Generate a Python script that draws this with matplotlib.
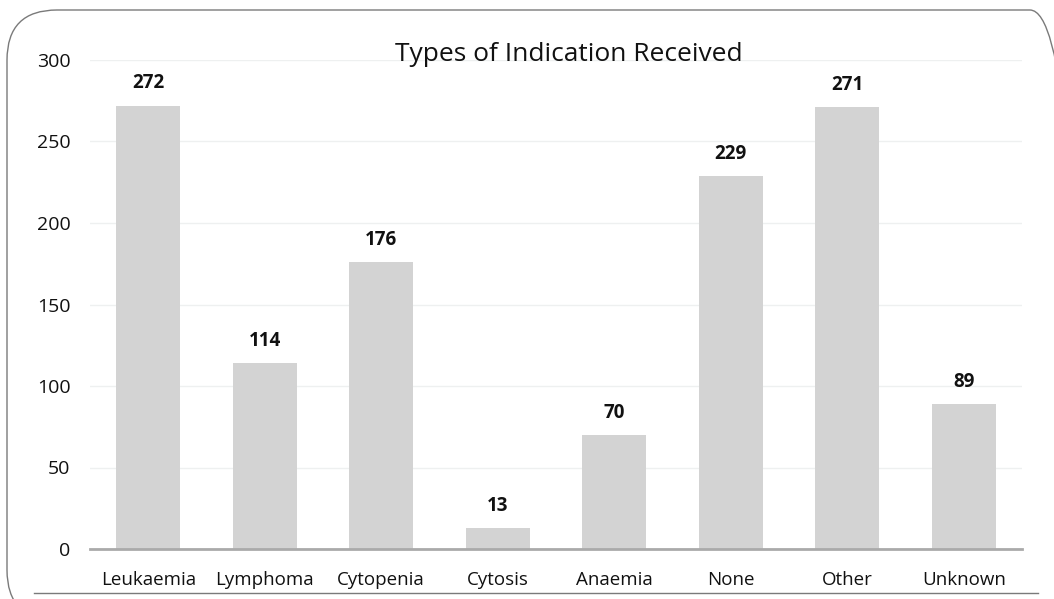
import matplotlib
matplotlib.use("Agg")
import matplotlib.pyplot as plt
from matplotlib.patches import FancyBboxPatch
from matplotlib.lines import Line2D

categories = ["Leukaemia", "Lymphoma", "Cytopenia", "Cytosis", "Anaemia", "None", "Other", "Unknown"]
values = [272, 114, 176, 13, 70, 229, 271, 89]
yticks = [0, 50, 100, 150, 200, 250, 300]
title = "Types of Indication Received"

plt.rcParams['font.family'] = ['Open Sans', 'DejaVu Sans']

W, H = 1054, 599
fig = plt.figure(figsize=(W/100, H/100), dpi=100)
fig.patch.set_facecolor("white")

# frame
frame = FancyBboxPatch((0.07, (H-620)/100), (1080-7)/100, (620-10)/100,
                       boxstyle="round,pad=0,rounding_size=0.5",
                       transform=fig.dpi_scale_trans, fill=False,
                       edgecolor="#7a7a7a", linewidth=1.0, clip_on=False)
fig.patches.append(frame)
fig.lines.append(Line2D([34/W, 1038/W], [1-593/H, 1-593/H], transform=fig.transFigure,
                        color="#7a7a7a", linewidth=1.0))

ax = fig.add_axes([90/W, 1-549/H, (1022-90)/W, (549-60)/H])
x = list(range(len(categories)))
ax.bar(x, values, width=0.55, color="#d3d3d3", zorder=2)
ax.set_xlim(-0.5, len(categories)-0.5)
ax.set_ylim(0, 300)
ax.set_yticks(yticks)
ax.set_xticks(x)
ax.set_xticklabels(categories, fontsize=13.5, color="#111111")
ax.tick_params(axis='y', labelsize=14, colors="#111111", length=0, pad=14)
ax.tick_params(axis='x', length=0, pad=16)
ax.yaxis.grid(True, color="#eef0f0", linewidth=1, zorder=0)
for s in ["top", "right", "left"]:
    ax.spines[s].set_visible(False)
ax.spines["bottom"].set_color("#aaaaaa")
ax.spines["bottom"].set_linewidth(2)
ax.spines["bottom"].set_zorder(3)

for xi, v in zip(x, values):
    ax.annotate(str(v), (xi, v), xytext=(0, 16), textcoords="offset points",
                ha="center", va="center", fontsize=13.5, fontweight="bold", color="#111111")

fig.text(569/W, 1-61/H, title, ha="center", va="baseline", fontsize=19, color="#111111")

fig.savefig("out.png", dpi=100)
